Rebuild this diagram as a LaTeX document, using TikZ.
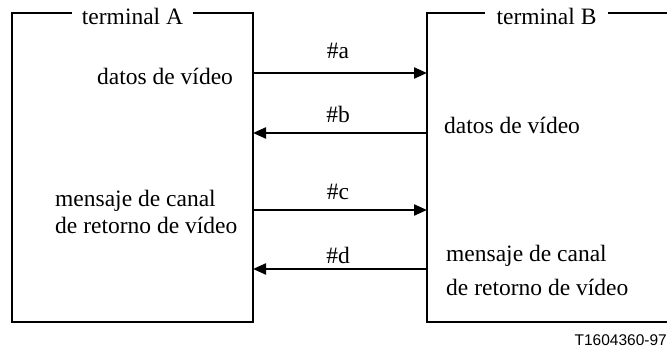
\documentclass[tikz,border=0pt]{standalone}
\usepackage{fontspec}
\setmainfont{Liberation Serif}
\newfontfamily\codefont{Liberation Sans}
\usetikzlibrary{arrows.meta}
\tikzset{
  box/.style={line width=1.1pt},
  sig/.style={line width=2.2pt,-{Triangle[length=13pt,width=11pt]}},
  txt/.style={inner sep=0pt,anchor=base west,font=\fontsize{23.5}{27}\selectfont},
  ttl/.style={inner sep=0pt,anchor=base,font=\fontsize{23.5}{27}\selectfont},
  lbl/.style={inner sep=0pt,anchor=base,font=\fontsize{23.5}{27}\selectfont}
}
\begin{document}
\begin{tikzpicture}[x=1pt,y=-1pt]
\useasboundingbox (0,0) rectangle (667,351);
% terminal A frame
\draw[box] (72,13) -| (12,322) -| (253,13) -- (193,13);
\node[ttl] (tA) at (132.5,24) {terminal A};
% terminal B frame (open to the right)
\draw[box] (485,13) -| (427,322) -- (667,322);
\draw[box] (608,13) -- (667,13);
\node[ttl] (tB) at (546.5,24) {terminal B};
% texts in A
\node[txt] (dA) at (97,84) {datos de vídeo};
\node[txt] (mA1) at (55,206) {mensaje de canal};
\node[txt] (mA2) at (55,233) {de retorno de vídeo};
% texts in B
\node[txt] (dB) at (444,133) {datos de vídeo};
\node[txt] (mB1) at (446,261) {mensaje de canal};
\node[txt] (mB2) at (446,295) {de retorno de vídeo};
% connector ends
\coordinate (Aa) at (253,73);  \coordinate (Ba) at (427,73);
\coordinate (Ab) at (253,133); \coordinate (Bb) at (427,133);
\coordinate (Ac) at (253,210); \coordinate (Bc) at (427,210);
\coordinate (Ad) at (253,269); \coordinate (Bd) at (427,269);
\draw[sig] (Aa) -- (Ba);
\draw[sig] (Bb) -- (Ab);
\draw[sig] (Ac) -- (Bc);
\draw[sig] (Bd) -- (Ad);
\node[lbl] (la) at (338,58) {\#a};
\node[lbl] (lb) at (338,122) {\#b};
\node[lbl] (lc) at (338,199) {\#c};
\node[lbl] (ld) at (338,263) {\#d};
\node[inner sep=0pt,anchor=base east,font=\codefont\fontsize{15.5}{18}\selectfont] (code) at (667,345) {T1604360-97};
\end{tikzpicture}
\end{document}
